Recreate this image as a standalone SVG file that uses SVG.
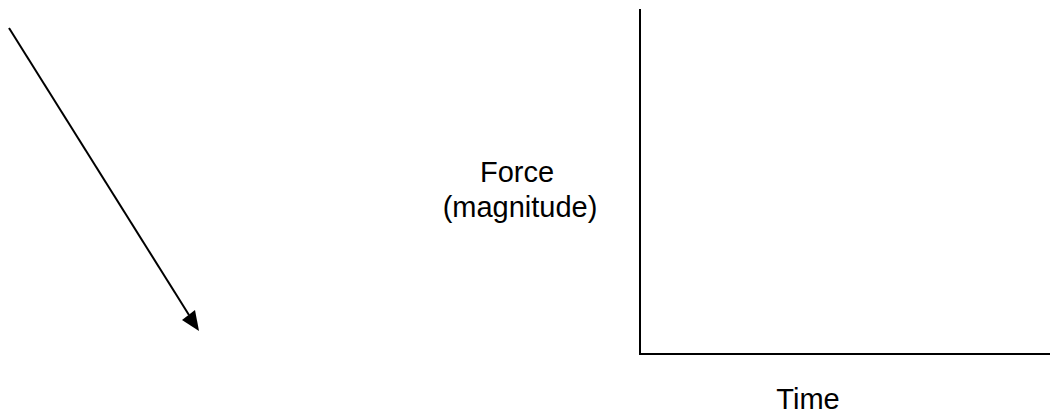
<svg xmlns="http://www.w3.org/2000/svg" width="1050" height="413" viewBox="0 0 1050 413">
<style>
.ln{stroke:#000;stroke-width:2;fill:none}
.lbl{font-family:"Liberation Sans",Arial,sans-serif;font-size:29px;fill:#000;text-anchor:middle}
</style>
<rect width="1050" height="413" fill="#fff"/>
<g id="connectors">
<line class="ln" x1="9" y1="28" x2="189" y2="315"/>
<polygon points="199,331 182,320 195,310" fill="#000"/>
</g>
<g id="axes">
<polyline class="ln" points="640,9 640,354 1050,354"/>
</g>
<g id="label-force">
<text class="lbl" x="517" y="182">Force</text>
<text class="lbl" x="520" y="217">(magnitude)</text>
</g>
<g id="label-time">
<text class="lbl" x="808" y="409">Time</text>
</g>
</svg>
